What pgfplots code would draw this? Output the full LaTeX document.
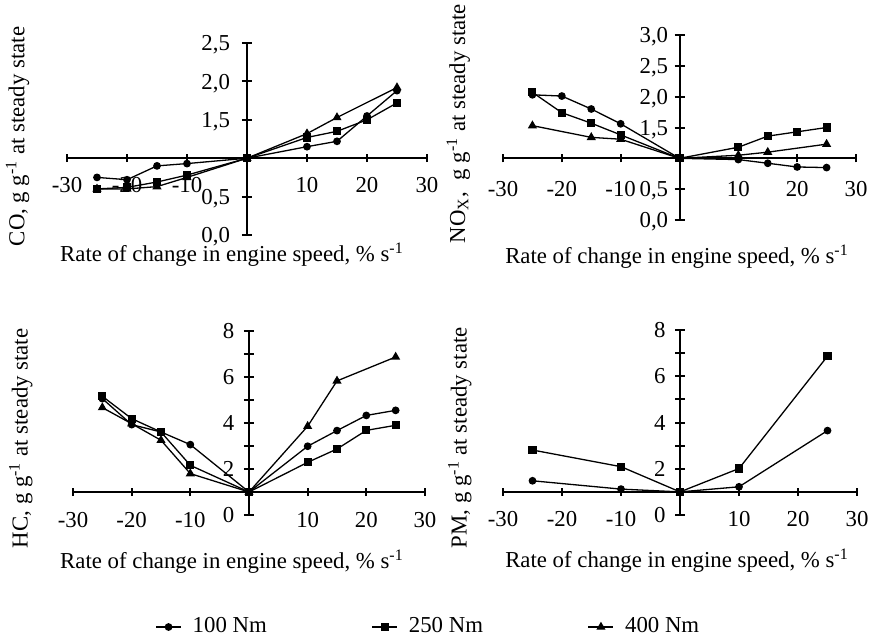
\documentclass[border=0pt]{standalone}
\usepackage{fontspec}
\setmainfont{Liberation Serif}
\usepackage{pgfplots}
\pgfplotsset{compat=1.18}

\tikzset{axl/.style={black, line width=1pt}}
\pgfplotsset{
  panel/.style={scale only axis, hide axis, clip=false, anchor=south west,
    xmin=-30, xmax=30, ymin=0,
    every axis plot/.append style={black, line width=0.65pt, mark options={solid}}},
  s1/.style={mark=*, mark size=1.6pt},
  s2/.style={mark=square*, mark size=1.7pt},
  s3/.style={mark=triangle*, mark size=2pt},
}

% x tick with label, #2 = baseline offset
\newcommand{\xtk}[2]{\draw[axl] ([yshift=-2pt]axis cs:#1,1) -- ([yshift=2pt]axis cs:#1,1);
  \node[anchor=base, inner sep=0pt, yshift=#2] at (axis cs:#1,1) {#1};}
\newcommand{\xticks}[1]{\xtk{-30}{#1}\xtk{-20}{#1}\xtk{-10}{#1}\xtk{10}{#1}\xtk{20}{#1}\xtk{30}{#1}}
% y tick: value, label, gap
\newcommand{\ytk}[3]{\draw[axl] ([xshift=-2.5pt]axis cs:0,#1) -- ([xshift=2.5pt]axis cs:0,#1);
  \node[anchor=base east, inner sep=0pt, xshift=-#3, yshift=-3.85pt] at (axis cs:0,#1) {#2};}

\begin{document}
\fontsize{11.4}{13.7}\selectfont
\begin{tikzpicture}
\useasboundingbox (0,0) rectangle (435.5pt,319.5pt);

% CO
\begin{axis}[panel, at={(33.5pt,202pt)}, width=180pt, height=96pt, ymax=2.5]
  \draw[axl] (axis cs:-30,1) -- (axis cs:30,1);
  \draw[axl] (axis cs:0,0) -- (axis cs:0,2.5);
  \xticks{-17pt}
  \ytk{0}{0,0}{8.3pt}\ytk{0.5}{0,5}{8.3pt}\ytk{1.5}{1,5}{8.3pt}\ytk{2}{2,0}{8.3pt}\ytk{2.5}{2,5}{8.3pt}
  \addplot[s1] coordinates {(-25,0.75)(-20,0.72)(-15,0.90)(-10,0.93)(0,1)(10,1.15)(15,1.22)(20,1.55)(25,1.88)};
  \addplot[s2] coordinates {(-25,0.60)(-20,0.62)(-15,0.69)(-10,0.78)(0,1)(10,1.27)(15,1.35)(20,1.50)(25,1.72)};
  \addplot[s3] coordinates {(-25,0.60)(-20,0.60)(-15,0.63)(-10,0.75)(0,1)(10,1.32)(15,1.53)(25,1.92)};
\end{axis}

% NOx
\begin{axis}[panel, at={(251.5pt,209.5pt)}, width=176.5pt, height=92.5pt, ymax=3]
  \draw[axl] (axis cs:-30,1) -- (axis cs:30,1);
  \draw[axl] (axis cs:0,0) -- (axis cs:0,3);
  \xticks{-19.2pt}
  \ytk{0}{0,0}{5.5pt}\ytk{0.5}{0,5}{5.5pt}\ytk{1.5}{1,5}{5.5pt}\ytk{2}{2,0}{5.5pt}\ytk{2.5}{2,5}{5.5pt}\ytk{3}{3,0}{5.5pt}
  \addplot[s1] coordinates {(-25,2.03)(-20,2.01)(-15,1.80)(-10,1.56)(0,1)(10,0.98)(15,0.92)(20,0.86)(25,0.85)};
  \addplot[s2] coordinates {(-25,2.07)(-20,1.74)(-15,1.57)(-10,1.38)(0,1)(10,1.18)(15,1.36)(20,1.43)(25,1.50)};
  \addplot[s3] coordinates {(-25,1.53)(-15,1.34)(-10,1.31)(0,1)(10,1.05)(15,1.10)(25,1.23)};
\end{axis}

% HC
\begin{axis}[panel, at={(36.5pt,62pt)}, width=176pt, height=92pt, ymax=8,
  legend columns=3,
  legend image code/.code={\draw[mark repeat=2,mark phase=2,#1] plot coordinates {(0pt,0pt) (6.25pt,0pt) (12.5pt,0pt)};},
  legend style={at={(0.233,-0.6087)}, anchor=west, draw=none, fill=none, inner sep=0pt,
    nodes={inner sep=0pt},
    /tikz/every odd column/.append style={column sep=5.5pt},
    /tikz/every even column/.append style={column sep=52.4pt}}]
  \draw[axl] (axis cs:-30,1) -- (axis cs:30,1);
  \draw[axl] (axis cs:0,0) -- (axis cs:0,8);
  \xticks{-17.8pt}
  \ytk{0}{0}{7.2pt}\ytk{2}{2}{7.2pt}\ytk{3}{}{7.2pt}\ytk{4}{4}{7.2pt}\ytk{5}{}{7.2pt}\ytk{6}{6}{7.2pt}\ytk{7}{}{7.2pt}\ytk{8}{8}{7.2pt}
  \addplot[s1] coordinates {(-25,5.06)(-20,3.93)(-15,3.61)(-10,3.06)(0,1)(10,2.99)(15,3.67)(20,4.33)(25,4.55)};
  \addplot[s2] coordinates {(-25,5.16)(-20,4.19)(-15,3.61)(-10,2.16)(0,1)(10,2.29)(15,2.87)(20,3.68)(25,3.90)};
  \addplot[s3] coordinates {(-25,4.67)(-20,3.97)(-15,3.25)(-10,1.80)(0,1)(10,3.86)(15,5.83)(25,6.87)};
  \legend{100 Nm, 250 Nm, 400 Nm}
\end{axis}

% PM
\begin{axis}[panel, at={(251.5pt,62pt)}, width=177pt, height=92.5pt, ymax=8]
  \draw[axl] (axis cs:-30,1) -- (axis cs:30,1);
  \draw[axl] (axis cs:0,0) -- (axis cs:0,8);
  \xticks{-17.2pt}
  \ytk{0}{0}{7pt}\ytk{2}{2}{7pt}\ytk{3}{}{7pt}\ytk{4}{4}{7pt}\ytk{5}{}{7pt}\ytk{6}{6}{7pt}\ytk{7}{}{7pt}\ytk{8}{8}{7pt}
  \addplot[s1] coordinates {(-25,1.48)(-10,1.12)(0,1)(10,1.22)(25,3.65)};
  \addplot[s2] coordinates {(-25,2.81)(-10,2.09)(0,1)(10,2.01)(25,6.87)};
\end{axis}

% axis titles
\node[anchor=base, inner sep=0pt] at (116pt,188.6pt) {Rate of change in engine speed, \% s\textsuperscript{-1}};
\node[anchor=base, inner sep=0pt] at (338.5pt,187.8pt) {Rate of change in engine speed, \% s\textsuperscript{-1}};
\node[anchor=base, inner sep=0pt] at (116pt,35.3pt) {Rate of change in engine speed, \% s\textsuperscript{-1}};
\node[anchor=base, inner sep=0pt] at (338.5pt,35.8pt) {Rate of change in engine speed, \% s\textsuperscript{-1}};
\node[rotate=90, anchor=base west, inner sep=0pt] at (12.2pt,196.2pt) {CO, g g\textsuperscript{-1} at steady state};
\node[rotate=90, anchor=base west, inner sep=0pt] at (232.5pt,197.8pt) {NO\textsubscript{X},\ \ g g\textsuperscript{-1} at steady state};
\node[rotate=90, anchor=base west, inner sep=0pt] at (13.8pt,45.3pt) {HC, g g\textsuperscript{-1} at steady state};
\node[rotate=90, anchor=base west, inner sep=0pt] at (233.3pt,45.3pt) {PM, g g\textsuperscript{-1} at steady state};
\end{tikzpicture}
\end{document}
